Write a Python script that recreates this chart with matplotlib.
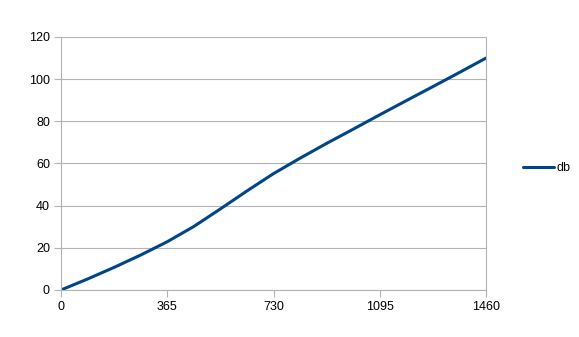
import matplotlib
matplotlib.use("Agg")
import matplotlib.pyplot as plt

days = [0, 91, 182, 274, 365, 456, 547, 639, 730, 821, 912, 1004, 1095, 1186, 1278, 1369, 1460]
db = [0, 5.2, 10.7, 16.6, 22.9, 30.1, 38.4, 47.0, 55.2, 62.5, 69.5, 76.3, 83.1, 89.8, 96.5, 103.2, 110.0]
x_ticks = [0, 365, 730, 1095, 1460]
y_ticks = [0, 20, 40, 60, 80, 100, 120]
series_name = "db"

plt.rcParams['font.family'] = ['Liberation Sans', 'DejaVu Sans']
fig = plt.figure(figsize=(5.79, 3.37), dpi=100)
ax = fig.add_axes([61/579, 1-290/337, 425/579, 253/337])

ax.plot(days, db, color="#004586", lw=2.2, label=series_name,
        solid_capstyle="round", solid_joinstyle="round")
ax.set_xlim(0, 1460)
ax.set_ylim(0, 120)
ax.set_xticks(x_ticks)
ax.set_yticks(y_ticks)
ax.grid(axis='y', color="#b3b3b3", lw=0.8)
ax.set_axisbelow(True)
for s in ax.spines.values():
    s.set_color("#b3b3b3")
    s.set_linewidth(0.8)
ax.spines['top'].set_visible(False)
ax.tick_params(axis='both', direction='out', length=5, width=0.8, color="#b3b3b3",
               labelsize=9, labelcolor="#000000", pad=3)

leg = fig.legend(loc='center left', bbox_to_anchor=(518/579, 1-168/337), frameon=False,
                 fontsize=9, handlelength=2.5, handletextpad=0.15, borderaxespad=0)

fig.savefig("out.png", dpi=100)
